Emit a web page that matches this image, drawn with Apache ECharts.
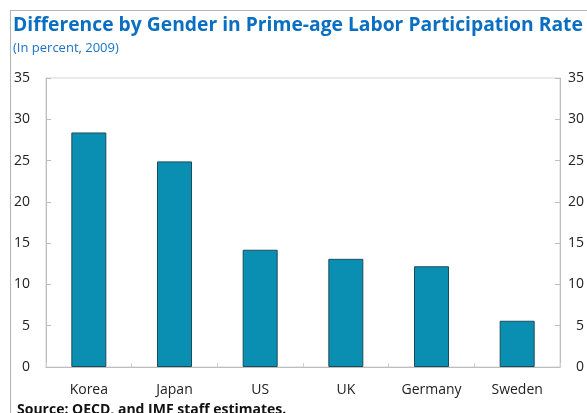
<!DOCTYPE html>
<html>
<head>
<meta charset="utf-8">
<script src="https://cdn.jsdelivr.net/npm/echarts@6/dist/echarts.min.js"></script>
<style>
  html, body { margin: 0; padding: 0; background: #fff; overflow: hidden; }
  #frame { position: absolute; left: 10px; top: 10px; width: 600px; height: 420px;
           border-left: 1px solid #b4b4b4; border-top: 1px solid #b4b4b4; }
  #chart { position: absolute; left: 0; top: 0; width: 587px; height: 413px; }
</style>
</head>
<body>
<div id="frame"></div>
<div id="chart"></div>
<script>
// data
const countries = ['Korea', 'Japan', 'US', 'UK', 'Germany', 'Sweden'];
const gapValues = [28.4, 24.9, 14.2, 13.1, 12.2, 5.6];
const yTicks = [0, 5, 10, 15, 20, 25, 30, 35];

const font = '"Open Sans", "Noto Sans", sans-serif';

const axisY = (pos, margin) => ({
  type: 'value',
  position: pos,
  min: yTicks[0],
  max: yTicks[yTicks.length - 1],
  interval: 5,
  axisLine: { show: true, lineStyle: { color: '#bdbdbd' } },
  axisTick: { show: true, inside: true, length: 5, lineStyle: { color: '#bdbdbd' } },
  splitLine: { show: false },
  axisLabel: { color: '#222', fontSize: 14, fontFamily: font, margin: margin, align: 'right' }
});

const chart = echarts.init(document.getElementById('chart'), null, { renderer: 'canvas' });
chart.setOption({
  animation: false,
  title: [
    {
      text: 'Difference by Gender in Prime-age Labor Participation Rate',
      left: 13, top: 16, padding: 0,
      textStyle: { color: '#0a6fc2', fontSize: 19.3, fontWeight: 'bold', fontFamily: font }
    },
    {
      text: '(In percent, 2009)',
      left: 13, top: 42, padding: 0,
      textStyle: { color: '#1a72c9', fontSize: 13, fontWeight: 'normal', fontFamily: font }
    },
    {
      text: 'Source: OECD, and IMF staff estimates.',
      left: 17, top: 403, padding: 0,
      textStyle: { color: '#111', fontSize: 14, fontWeight: 'bold', fontFamily: font }
    }
  ],
  grid: { left: 46, right: 27, top: 78, bottom: 46, show: true, borderColor: '#d4d4d4', borderWidth: 1 },
  xAxis: {
    type: 'category',
    data: countries,
    axisLine: { show: true, lineStyle: { color: '#bdbdbd' } },
    axisTick: { show: true, inside: true, length: 4, lineStyle: { color: '#d0d0d0' } },
    axisLabel: { color: '#222', fontSize: 14, fontFamily: font, margin: 16 }
  },
  yAxis: [axisY('left', 16), axisY('right', 24)],
  series: [{
    type: 'bar',
    data: gapValues,
    barWidth: 35,
    itemStyle: { color: '#0a8eb1', borderColor: '#1c4c5a', borderWidth: 1 }
  }]
});
</script>
</body>
</html>
